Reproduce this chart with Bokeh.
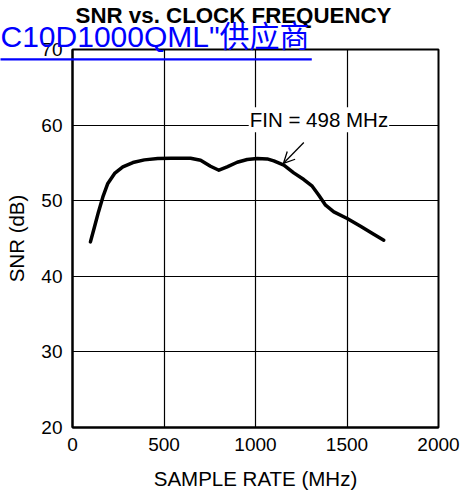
from bokeh.plotting import figure
from bokeh.models import Range1d, FixedTicker, Label, Arrow, OpenHead
from bokeh.embed import file_html
from bokeh.resources import INLINE

# SNR versus sample rate, FIN = 498 MHz
sample_rate_mhz = [98, 120, 142, 166, 193, 230, 275, 330, 393, 466, 539, 645, 700,
                   754, 800, 845, 900, 955, 1009, 1064, 1100, 1155, 1209, 1264,
                   1310, 1346, 1383, 1428, 1501, 1574, 1646, 1701]
snr_db = [44.55, 46.53, 48.52, 50.50, 52.28, 53.60, 54.47, 55.05, 55.40, 55.58, 55.62,
          55.62, 55.36, 54.56, 54.03, 54.47, 55.09, 55.45, 55.58, 55.53, 55.26, 54.70,
          53.68, 52.80, 51.92, 50.73, 49.40, 48.52, 47.65, 46.63, 45.57, 44.78]

x_ticks = [0, 500, 1000, 1500, 2000]
y_ticks = [20, 30, 40, 50, 60, 70]

FONT = "Liberation Sans"

# The top panel holds the header texts; it is given a fixed height and the
# page is shifted up so the plot frame starts 49 px from the top edge.
TOP_PANEL = 80
SHIFT = TOP_PANEL - 49

p = figure(width=464, height=497 + SHIFT, output_backend="svg", toolbar_location=None,
           x_range=Range1d(0, 2000), y_range=Range1d(20, 70),
           min_border_left=72, min_border_right=26, min_border_top=TOP_PANEL,
           min_border_bottom=70, background_fill_color="white",
           border_fill_color="white", margin=(-SHIFT, 0, 0, 0))

p.outline_line_color = "black"
p.outline_line_width = 2

for ax in (p.xaxis[0], p.yaxis[0]):
    ax.axis_line_color = "black"
    ax.axis_line_width = 2
    ax.major_tick_in = 0
    ax.major_tick_out = 0
    ax.minor_tick_line_color = None
    ax.major_label_text_font = FONT
    ax.major_label_text_font_size = "19px"
    ax.major_label_text_color = "black"
    ax.axis_label_text_font = FONT
    ax.axis_label_text_font_size = "20.5px"
    ax.axis_label_text_font_style = "normal"
    ax.axis_label_text_color = "black"

p.xaxis.ticker = FixedTicker(ticks=x_ticks)
p.yaxis.ticker = FixedTicker(ticks=y_ticks)
p.xaxis.axis_label = "SAMPLE RATE (MHz)"
p.yaxis.axis_label = "SNR (dB)"
p.xaxis.major_label_standoff = 10
p.yaxis.major_label_standoff = 10
p.xaxis.axis_label_standoff = 13
p.yaxis.axis_label_standoff = 10

p.xgrid.ticker = FixedTicker(ticks=x_ticks)
p.ygrid.ticker = FixedTicker(ticks=y_ticks)
for g in (p.xgrid[0], p.ygrid[0]):
    g.grid_line_color = "black"
    g.grid_line_width = 1.2
    g.grid_line_alpha = 1.0

p.line(sample_rate_mhz, snr_db, line_color="black", line_width=3.5,
       line_join="round", line_cap="round")

# callout for the input frequency
p.add_layout(Label(x=963, y=60.7, text="FIN = 498 MHz", text_font=FONT,
                   text_font_size="20.5px", text_color="black",
                   text_baseline="middle", background_fill_color="white",
                   padding=1))
p.add_layout(Arrow(x_start=1264, y_start=57.7, x_end=1153, y_end=54.95,
                   line_color="black", line_width=1.3,
                   end=OpenHead(size=11, line_color="black", line_width=1.3)))

# chart title (in the top panel so the frame does not clip it)
p.add_layout(Label(x=880, y=74.44, text="SNR vs. CLOCK FREQUENCY",
                   text_font=FONT, text_font_size="22.3px",
                   text_font_style="bold", text_color="black",
                   text_align="center", text_baseline="alphabetic"), "above")

# blue link text with underline
p.add_layout(Label(x=-393.4, y=71.7, text='C10D1000QML"供应商',
                   text_font="'Liberation Sans', 'Noto Sans CJK SC'",
                   text_font_size="30px", text_color="#0000ff",
                   text_baseline="alphabetic"), "above")
p.add_layout(Label(x=-393.4, y=68.7, text=" ", text_font_size="1px",
                   text_baseline="middle", background_fill_color="#0000ff",
                   padding=(0, 311, 1, 0)), "above")

open("out.html", "w").write(file_html(p, INLINE))
